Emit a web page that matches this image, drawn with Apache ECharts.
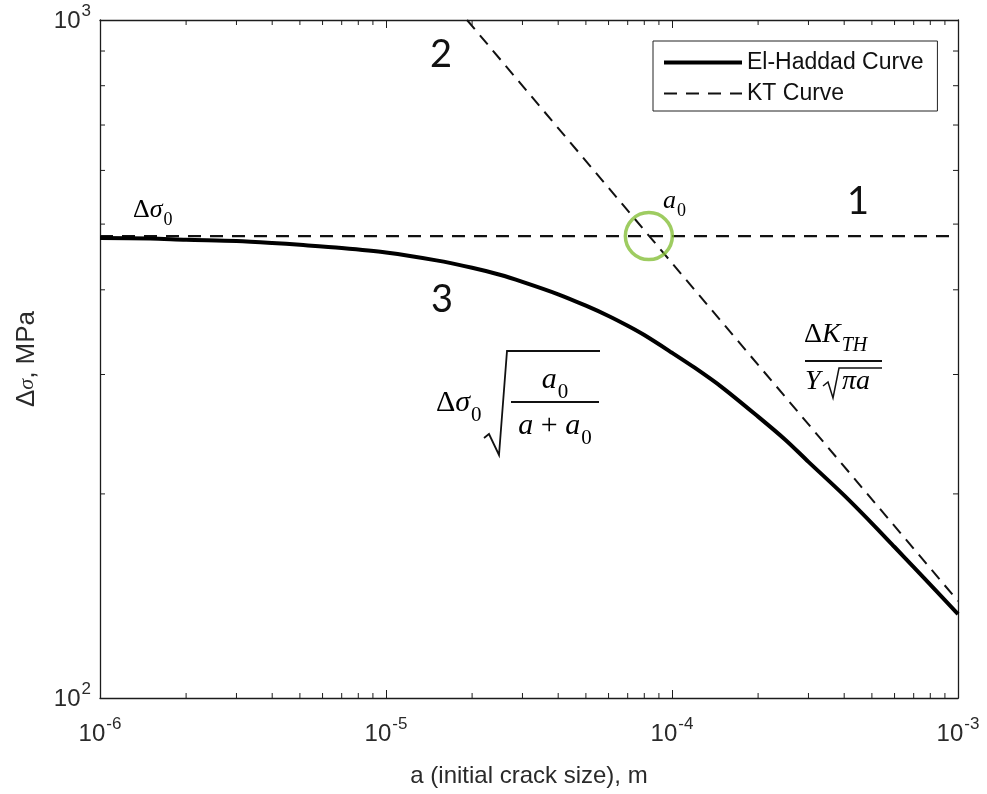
<!DOCTYPE html>
<html>
<head>
<meta charset="utf-8">
<script src="https://cdn.jsdelivr.net/npm/echarts@6/dist/echarts.min.js"></script>
<style>
  html, body { margin: 0; padding: 0; background: #fff; }
  #chart { width: 987px; height: 794px; }
</style>
</head>
<body>
<div id="chart"></div>
<script>
// Crack size a (m) at which the El-Haddad curve is sampled
const crackSize = [1e-6, 1.5e-6, 2e-6, 3e-6, 4e-6, 5e-6, 7e-6, 1e-5, 1.5e-5, 2e-5,
                   2.5e-5, 3e-5, 4e-5, 5e-5, 6e-5, 7e-5, 8e-5, 1e-4, 1.2e-4, 1.5e-4,
                   2e-4, 2.5e-4, 3e-4, 4e-4, 5e-4, 6e-4, 7e-4, 8e-4, 1e-3];
// El-Haddad threshold stress range Δσ (MPa)
const elHaddad = [477, 476, 474, 472, 469, 466, 461, 454, 442, 431,
                  421, 411, 394, 379, 366, 354, 343, 323, 307, 287,
                  260, 240, 223, 199, 181, 167, 156, 147, 133];
// Kitagawa-Takahashi LEFM branch ΔK_TH / (Y√(πa))
const ktCrack = [1.92e-5, 1e-4, 1e-3];
const ktStress = [1000, 438, 139];
// Fatigue limit branch Δσ0
const limitCrack = [1e-6, 1e-3];
const limitStress = [480, 480];
// Intrinsic crack length a0 where both branches meet
const a0Point = [8.3e-5, 480];

// Axis ranges and minor tick positions
const xRange = [1e-6, 1e-3];
const yRange = [100, 1000];
const xMinor = [2e-6, 3e-6, 4e-6, 5e-6, 6e-6, 7e-6, 8e-6, 9e-6,
                2e-5, 3e-5, 4e-5, 5e-5, 6e-5, 7e-5, 8e-5, 9e-5,
                2e-4, 3e-4, 4e-4, 5e-4, 6e-4, 7e-4, 8e-4, 9e-4];
const yMinor = [200, 300, 400, 500, 600, 700, 800, 900];

const AXIS = '#1c1c1c';
const LABEL = '#2a2a2a';
const SANS = 'Liberation Sans, Arial, sans-serif';
const SERIF = 'Liberation Serif, serif';

function pow10Label(v) {
  const e = Math.round(Math.log10(v));
  if (Math.abs(Math.log10(v) - e) > 1e-6) return '';
  return '{b|10}{s|' + e + '}';
}
const powRich = {
  b: { fontSize: 24, fontFamily: SANS, color: LABEL, verticalAlign: 'bottom', lineHeight: 26 },
  s: { fontSize: 17, fontFamily: SANS, color: LABEL, verticalAlign: 'bottom', lineHeight: 17, padding: [0, 0, 13, 1] }
};

const boxAxisLine = { show: true, onZero: false, lineStyle: { color: AXIS, width: 1.3 } };
const majorTick = { show: true, inside: true, length: 8, lineStyle: { color: AXIS, width: 1 } };

function minorTicks(values, horizontal) {
  return {
    type: 'custom',
    silent: true,
    clip: false,
    z: 5,
    data: values.map(v => horizontal ? [v, yRange[0]] : [xRange[0], v]),
    renderItem(params, api) {
      const cs = params.coordSys;
      const p = api.coord([api.value(0), api.value(1)]);
      const style = { stroke: AXIS, lineWidth: 1 };
      const len = 5;
      if (horizontal) {
        const x = p[0];
        return { type: 'group', children: [
          { type: 'line', shape: { x1: x, y1: cs.y + cs.height, x2: x, y2: cs.y + cs.height - len }, style },
          { type: 'line', shape: { x1: x, y1: cs.y, x2: x, y2: cs.y + len }, style }
        ]};
      }
      const y = p[1];
      return { type: 'group', children: [
        { type: 'line', shape: { x1: cs.x, y1: y, x2: cs.x + len, y2: y }, style },
        { type: 'line', shape: { x1: cs.x + cs.width, y1: y, x2: cs.x + cs.width - len, y2: y }, style }
      ]};
    }
  };
}

// Math-style rich text pieces
const mathRich = (size) => ({
  u: { fontFamily: SERIF, fontSize: size, color: '#111', verticalAlign: 'top', lineHeight: size + 4 },
  i: { fontFamily: SERIF, fontSize: size, fontStyle: 'italic', color: '#111', verticalAlign: 'top', lineHeight: size + 4 },
  sub: { fontFamily: SERIF, fontSize: Math.round(size * 0.7), color: '#111', verticalAlign: 'top',
         lineHeight: Math.round(size * 0.7), padding: [Math.round(size * 0.55), 0, 0, 1] },
  subi: { fontFamily: SERIF, fontSize: Math.round(size * 0.7), fontStyle: 'italic', color: '#111', verticalAlign: 'top',
          lineHeight: Math.round(size * 0.7), padding: [Math.round(size * 0.55), 0, 0, 1] }
});

function mathText(x, y, text, size, align) {
  return { type: 'text', x, y, z: 20,
    style: { text, rich: mathRich(size), align: align || 'left', verticalAlign: 'middle' } };
}
function digit(x, y, text) {
  return { type: 'text', x, y, z: 20,
    style: { text, fontFamily: 'Lato, Open Sans, sans-serif', fontSize: 38, fill: '#111', align: 'center', verticalAlign: 'middle' } };
}
function stroke(points, width) {
  return { type: 'polyline', z: 20, shape: { points }, style: { stroke: '#111', lineWidth: width, fill: null } };
}

const chart = echarts.init(document.getElementById('chart'), null, { renderer: 'canvas' });

chart.setOption({
  backgroundColor: '#fff',
  animation: false,
  grid: { left: 100, right: 29, top: 20, bottom: 96, containLabel: false },
  xAxis: [{
    type: 'log', logBase: 10, min: xRange[0], max: xRange[1],
    name: 'a (initial crack size), m', nameLocation: 'middle', nameGap: 66,
    nameTextStyle: { fontFamily: SANS, fontSize: 24, color: LABEL },
    axisLine: boxAxisLine, axisTick: majorTick, splitLine: { show: false },
    axisLabel: { formatter: pow10Label, rich: powRich, margin: 22 }
  }, {
    type: 'log', logBase: 10, min: xRange[0], max: xRange[1], position: 'top',
    axisLine: boxAxisLine, axisTick: majorTick, splitLine: { show: false }, axisLabel: { show: false }
  }],
  yAxis: [{
    type: 'log', logBase: 10, min: yRange[0], max: yRange[1],
    name: '{u|Δ}{i|σ}{u|, MPa}', nameLocation: 'middle', nameGap: 60, nameRotate: 90,
    nameTextStyle: { rich: {
      u: { fontFamily: SANS, fontSize: 26, color: LABEL },
      i: { fontFamily: SERIF, fontStyle: 'italic', fontSize: 22, color: LABEL }
    } },
    axisLine: boxAxisLine, axisTick: majorTick, splitLine: { show: false },
    axisLabel: { formatter: pow10Label, rich: powRich, margin: 9 }
  }, {
    type: 'log', logBase: 10, min: yRange[0], max: yRange[1], position: 'right',
    axisLine: boxAxisLine, axisTick: majorTick, splitLine: { show: false }, axisLabel: { show: false }
  }],
  legend: {
    left: 653, top: 41, orient: 'vertical',
    itemWidth: 78, itemHeight: 14, itemGap: 8,
    padding: [10, 14, 6, 9],
    backgroundColor: '#fff', borderColor: '#222', borderWidth: 1,
    textStyle: { fontFamily: SANS, fontSize: 23, color: '#111', lineHeight: 21 },
    data: [
      { name: 'El-Haddad Curve', lineStyle: { width: 4, color: '#000' }, itemStyle: { opacity: 0 } },
      { name: 'KT Curve', lineStyle: { width: 1.8, color: '#111', type: [13, 9] }, itemStyle: { opacity: 0 } }
    ]
  },
  series: [
    {
      name: 'El-Haddad Curve', type: 'line', symbol: 'none', smooth: 0.3, z: 4,
      lineStyle: { color: '#000', width: 4 },
      data: crackSize.map((a, i) => [a, elHaddad[i]])
    },
    {
      name: 'KT Curve', type: 'line', symbol: 'none', z: 3,
      lineStyle: { color: '#111', width: 2, type: [12, 8] },
      data: ktCrack.map((a, i) => [a, ktStress[i]])
    },
    {
      name: 'KT Curve', type: 'line', symbol: 'none', z: 3,
      lineStyle: { color: '#111', width: 2.3, type: [13, 9] },
      data: limitCrack.map((a, i) => [a, limitStress[i]])
    },
    {
      name: 'a0', type: 'scatter', symbol: 'circle', symbolSize: 47, z: 6, silent: true,
      itemStyle: { color: 'rgba(0,0,0,0)', borderColor: '#86bf3a', borderWidth: 3.5 },
      data: [a0Point]
    },
    minorTicks(xMinor, true),
    minorTicks(yMinor, false)
  ],
  graphic: [
    // Δσ0 label on the fatigue limit
    mathText(133, 212, '{u|Δ}{i|σ}{sub|0}', 26),
    // a0 label next to the intersection
    mathText(663, 203, '{i|a}{sub|0}', 26),
    // region numbers
    digit(858, 202, '1'),
    digit(441, 55, '2'),
    digit(442, 300, '3'),
    // El-Haddad expression
    mathText(436, 405, '{u|Δ}{i|σ}{sub|0}', 30),
    stroke([[484, 438], [489, 434], [499, 455], [507, 351], [600, 351]], 1.8),
    mathText(555, 382, '{i|a}{sub|0}', 30, 'center'),
    stroke([[511, 402], [599, 402]], 2),
    mathText(555, 428, '{i|a}{u| + }{i|a}{sub|0}', 30, 'center'),
    // KT expression
    mathText(804, 337, '{u|Δ}{i|K}{subi|TH}', 28),
    stroke([[805, 361], [882, 361]], 2),
    mathText(805, 384, '{i|Y}', 28),
    stroke([[823, 386], [828, 382], [833, 398], [839, 368], [882, 368]], 1.5),
    mathText(842, 384, '{i|πa}', 28)
  ]
});
</script>
</body>
</html>
